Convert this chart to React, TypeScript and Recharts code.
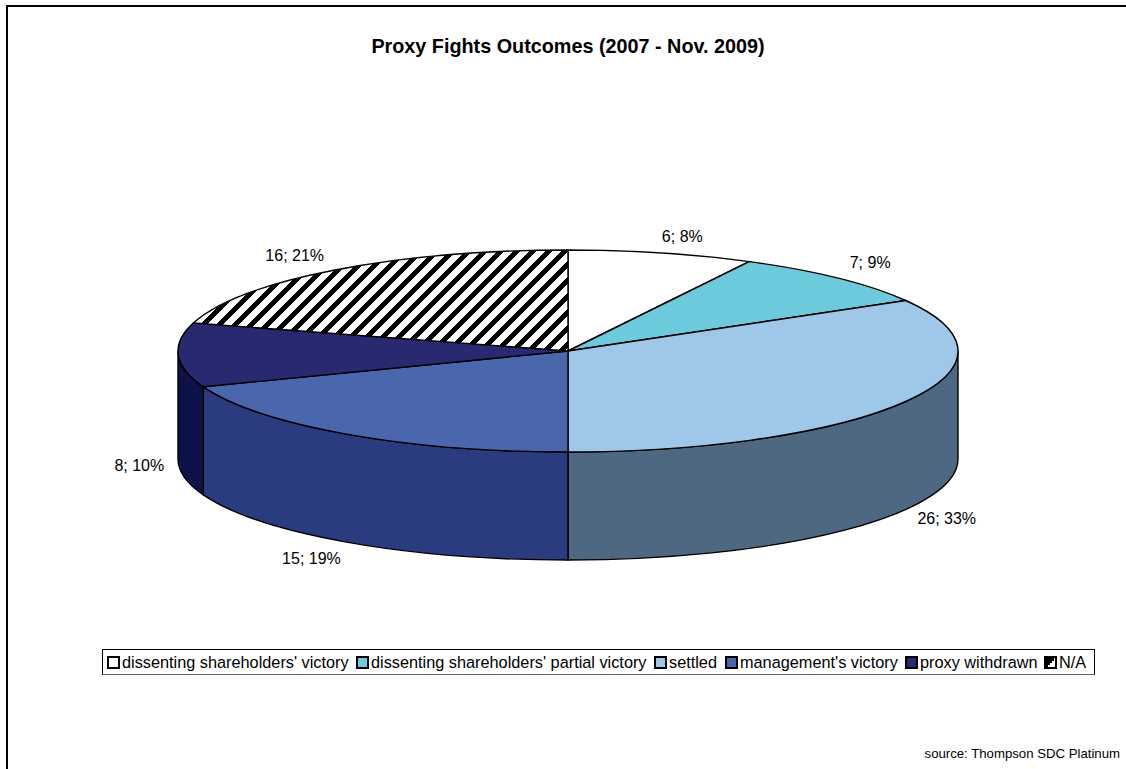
import { PieChart, Pie } from "recharts";

const NAMES = [
  "dissenting shareholders' victory",
  "dissenting shareholders' partial victory",
  "settled",
  "management's victory",
  "proxy withdrawn",
  "N/A",
];
const VALUES = [6, 7, 26, 15, 8, 16];
const TOP_COLORS = ["#ffffff", "#6dcadc", "#9fc7e9", "#4a67ae", "#282970", "url(#naStripes)"];
const WALL_COLORS = ["#ffffff", "#4a8a99", "#4f6882", "#2a3b80", "#0d1248", "#000000"];

// pixel nudges of the data labels away from the rim
const LABEL_DX = [21, 32, 41, -35, -39, -39];
const LABEL_DY = [-16, -16, 9, 16, 2, -15];

// left edge of each legend entry inside the page
const LEGEND_X = [107, 356, 654, 725, 905, 1044];

const W = 1126;
const H = 769;
const CX = 568;
const CY = 351;
const RX = 390;
const RY_RATIO = 101 / 390;
const DEPTH = 108;
const FONT = "'Liberation Sans', Arial, sans-serif";

const data = NAMES.map((name, i) => ({ name, value: VALUES[i], fill: TOP_COLORS[i], wall: WALL_COLORS[i] }));
const wallData = data.map(d => ({ ...d, fill: d.wall }));

// t = clockwise degrees from 12 o'clock
const rim = (cx: number, cy: number, r: number, t: number) => {
  const a = (t * Math.PI) / 180;
  return [cx + r * Math.sin(a), cy - r * RY_RATIO * Math.cos(a)];
};

function TopSlice(p: any) {
  const { cx, cy, outerRadius: r, startAngle, endAngle, fill } = p;
  const t1 = 90 - startAngle;
  const t2 = 90 - endAngle;
  const [x1, y1] = rim(cx, cy, r, t1);
  const [x2, y2] = rim(cx, cy, r, t2);
  const large = t2 - t1 > 180 ? 1 : 0;
  return (
    <path
      d={`M${cx},${cy}L${x1},${y1}A${r},${r * RY_RATIO} 0 ${large} 1 ${x2},${y2}Z`}
      fill={fill}
      stroke="#000"
      strokeWidth={1.4}
    />
  );
}

function WallSlice(p: any) {
  const { cx, cy, outerRadius: r, startAngle, endAngle, fill } = p;
  const t1 = Math.max(90 - startAngle, 90);
  const t2 = Math.min(90 - endAngle, 270);
  if (t2 <= t1) return null;
  const [x1, y1] = rim(cx, cy, r, t1);
  const [x2, y2] = rim(cx, cy, r, t2);
  const ry = r * RY_RATIO;
  return (
    <path
      d={`M${x1},${y1}A${r},${ry} 0 0 1 ${x2},${y2}L${x2},${y2 + DEPTH}A${r},${ry} 0 0 0 ${x1},${y1 + DEPTH}Z`}
      fill={fill}
      stroke="#000"
      strokeWidth={1.4}
    />
  );
}

function renderLabel(p: any) {
  const { cx, cy, outerRadius: r, midAngle, percent, value, index } = p;
  const t = 90 - midAngle;
  const [x, y] = rim(cx, cy, r, t);
  const front = t > 90 && t < 270 ? DEPTH : 0;
  return (
    <text
      x={x + LABEL_DX[index]}
      y={y + front + LABEL_DY[index]}
      textAnchor="middle"
      dominantBaseline="central"
      fontFamily={FONT}
      fontSize={16}
      fill="#000"
    >
      {`${value}; ${Math.round(percent * 100)}%`}
    </text>
  );
}

function LegendIcon({ i }: { i: number }) {
  const isNa = NAMES[i] === "N/A";
  return (
    <svg width={13} height={13} style={{ display: "block", flex: "none" }}>
      <rect x={1} y={1} width={11} height={11} fill={isNa ? "#fff" : TOP_COLORS[i]} stroke="#000" strokeWidth={2} />
      {isNa && <path d="M2,2H10V5H8V7H6V9H4V11H2Z" fill="#000" />}
    </svg>
  );
}

function LegendBox() {
  return (
    <div
      style={{
        position: "absolute",
        left: 102,
        top: 649,
        width: 993,
        height: 26,
        boxSizing: "border-box",
        border: "1px solid #000",
        borderBottomColor: "#666",
        background: "#fff",
        fontFamily: FONT,
        fontSize: 16.3,
        whiteSpace: "nowrap",
      }}
    >
      {NAMES.map((n, i) => (
        <span
          key={n}
          style={{ position: "absolute", left: LEGEND_X[i] - 103, top: 0, height: 24, display: "flex", alignItems: "center" }}
        >
          <LegendIcon i={i} />
          <span style={{ marginLeft: 2 }}>{n}</span>
        </span>
      ))}
    </div>
  );
}

export default function App() {
  return (
    <div style={{ position: "absolute", left: 0, top: 0, width: W, height: H, overflow: "hidden", background: "#fff" }}>
      <PieChart width={W} height={H} margin={{ top: 0, right: 0, bottom: 0, left: 0 }}>
        <defs>
          <pattern id="naStripes" width={16} height={16} patternUnits="userSpaceOnUse" x={0} y={0}>
            <rect width={16} height={16} fill="#fff" />
            <path
              d="M0,16 L16,0 M-8,8 L8,-8 M8,24 L24,8"
              stroke="#000"
              strokeWidth={5}
              shapeRendering="crispEdges"
            />
          </pattern>
        </defs>
        <rect x={7} y={6} width={W + 10} height={H + 10} fill="none" stroke="#000" strokeWidth={2} />
        <text x={568} y={46} textAnchor="middle" dominantBaseline="central" fontFamily={FONT} fontSize={19.8} fontWeight="bold">
          Proxy Fights Outcomes (2007 - Nov. 2009)
        </text>
        <text x={1120} y={753} textAnchor="end" dominantBaseline="central" fontFamily={FONT} fontSize={13.2}>
          source: Thompson SDC Platinum
        </text>
        <Pie
          data={wallData}
          dataKey="value"
          nameKey="name"
          cx={CX}
          cy={CY}
          outerRadius={RX}
          startAngle={90}
          endAngle={-270}
          paddingAngle={0}
          stroke="none"
          legendType="none"
          isAnimationActive={false}
          shape={WallSlice}
        />
        <Pie
          data={data}
          dataKey="value"
          nameKey="name"
          cx={CX}
          cy={CY}
          outerRadius={RX}
          startAngle={90}
          endAngle={-270}
          paddingAngle={0}
          isAnimationActive={false}
          shape={TopSlice}
          label={renderLabel}
          labelLine={false}
        />
      </PieChart>
      <LegendBox />
    </div>
  );
}
